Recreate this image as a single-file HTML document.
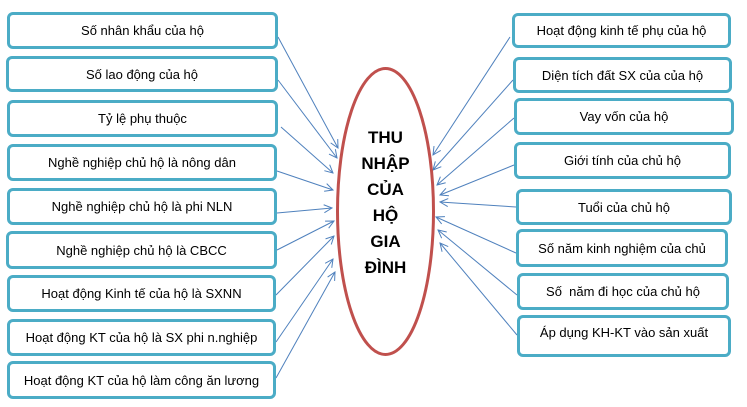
<!DOCTYPE html>
<html><head><meta charset="utf-8"><style>
body{margin:0;width:747px;height:407px;background:#fff;position:relative;overflow:hidden;font-family:"Liberation Sans","DejaVu Sans",sans-serif}
.b{position:absolute;box-sizing:border-box;border:3px solid #4bacc6;border-radius:6px;background:#fff;display:flex;align-items:center;justify-content:center;font-size:13px;color:#000;white-space:nowrap}
svg{position:absolute;left:0;top:0}
.t{position:absolute;left:337px;width:97px;text-align:center;font-weight:bold;font-size:17px;line-height:26px;top:125px}
</style></head><body>
<svg width="747" height="407">
<defs><marker id="a" markerWidth="10" markerHeight="10" refX="9" refY="5" orient="auto" markerUnits="userSpaceOnUse"><path d="M1,1 L9,5 L1,9" fill="none" stroke="#4f81bd" stroke-width="1"/></marker></defs>
<g stroke="#4f81bd" stroke-width="1" marker-end="url(#a)">
<line x1="278" y1="37" x2="338" y2="148"/>
<line x1="278" y1="80" x2="337" y2="158"/>
<line x1="281" y1="127" x2="333" y2="173"/>
<line x1="277" y1="171" x2="333" y2="190"/>
<line x1="277" y1="213" x2="332" y2="208"/>
<line x1="277" y1="250" x2="334" y2="221"/>
<line x1="276" y1="295" x2="334" y2="236"/>
<line x1="276" y1="342" x2="333" y2="259"/>
<line x1="276" y1="378" x2="335" y2="272"/>
<line x1="510" y1="37" x2="433" y2="155"/>
<line x1="513" y1="80" x2="433" y2="170"/>
<line x1="514" y1="118" x2="437" y2="185"/>
<line x1="514" y1="165" x2="440" y2="195"/>
<line x1="516" y1="207" x2="440" y2="202"/>
<line x1="516" y1="253" x2="436" y2="217"/>
<line x1="517" y1="295" x2="438" y2="230"/>
<line x1="517" y1="335" x2="440" y2="243"/>
</g>
<ellipse cx="385.5" cy="211.5" rx="48" ry="143" fill="#fff" stroke="#c0504d" stroke-width="3"/>
</svg>
<div class="t">THU<br>NHẬP<br>CỦA<br>HỘ<br>GIA<br>ĐÌNH</div>
<div class="b" style="left:7px;top:12px;width:271px;height:37px">Số nhân khẩu của hộ</div>
<div class="b" style="left:6px;top:56px;width:272px;height:36px">Số lao động của hộ</div>
<div class="b" style="left:7px;top:100px;width:271px;height:37px">Tỷ lệ phụ thuộc</div>
<div class="b" style="left:7px;top:144px;width:270px;height:37px">Nghề nghiệp chủ hộ là nông dân</div>
<div class="b" style="left:7px;top:188px;width:270px;height:37px">Nghề nghiệp chủ hộ là phi NLN</div>
<div class="b" style="left:6px;top:231px;width:271px;height:38px">Nghề nghiệp chủ hộ là CBCC</div>
<div class="b" style="left:7px;top:275px;width:269px;height:37px">Hoạt động Kinh tế của hộ là SXNN</div>
<div class="b" style="left:7px;top:319px;width:269px;height:37px">Hoạt động KT của hộ là SX phi n.nghiệp</div>
<div class="b" style="left:7px;top:361px;width:269px;height:38px">Hoạt động KT của hộ làm công ăn lương</div>
<div class="b" style="left:512px;top:13px;width:219px;height:35px">Hoạt động kinh tế phụ của hộ</div>
<div class="b" style="left:513px;top:57px;width:219px;height:36px">Diện tích đất SX của của hộ</div>
<div class="b" style="left:514px;top:98px;width:220px;height:37px">Vay vốn của hộ</div>
<div class="b" style="left:514px;top:142px;width:217px;height:37px">Giới tính của chủ hộ</div>
<div class="b" style="left:516px;top:189px;width:216px;height:36px">Tuổi của chủ hộ</div>
<div class="b" style="left:516px;top:229px;width:212px;height:38px">Số năm kinh nghiệm của chủ</div>
<div class="b" style="left:517px;top:273px;width:212px;height:37px">Số&nbsp; năm đi học của chủ hộ</div>
<div class="b" style="left:517px;top:315px;width:214px;height:42px;align-items:flex-start;padding-top:7px">Áp dụng KH-KT vào sản xuất</div>
</body></html>
